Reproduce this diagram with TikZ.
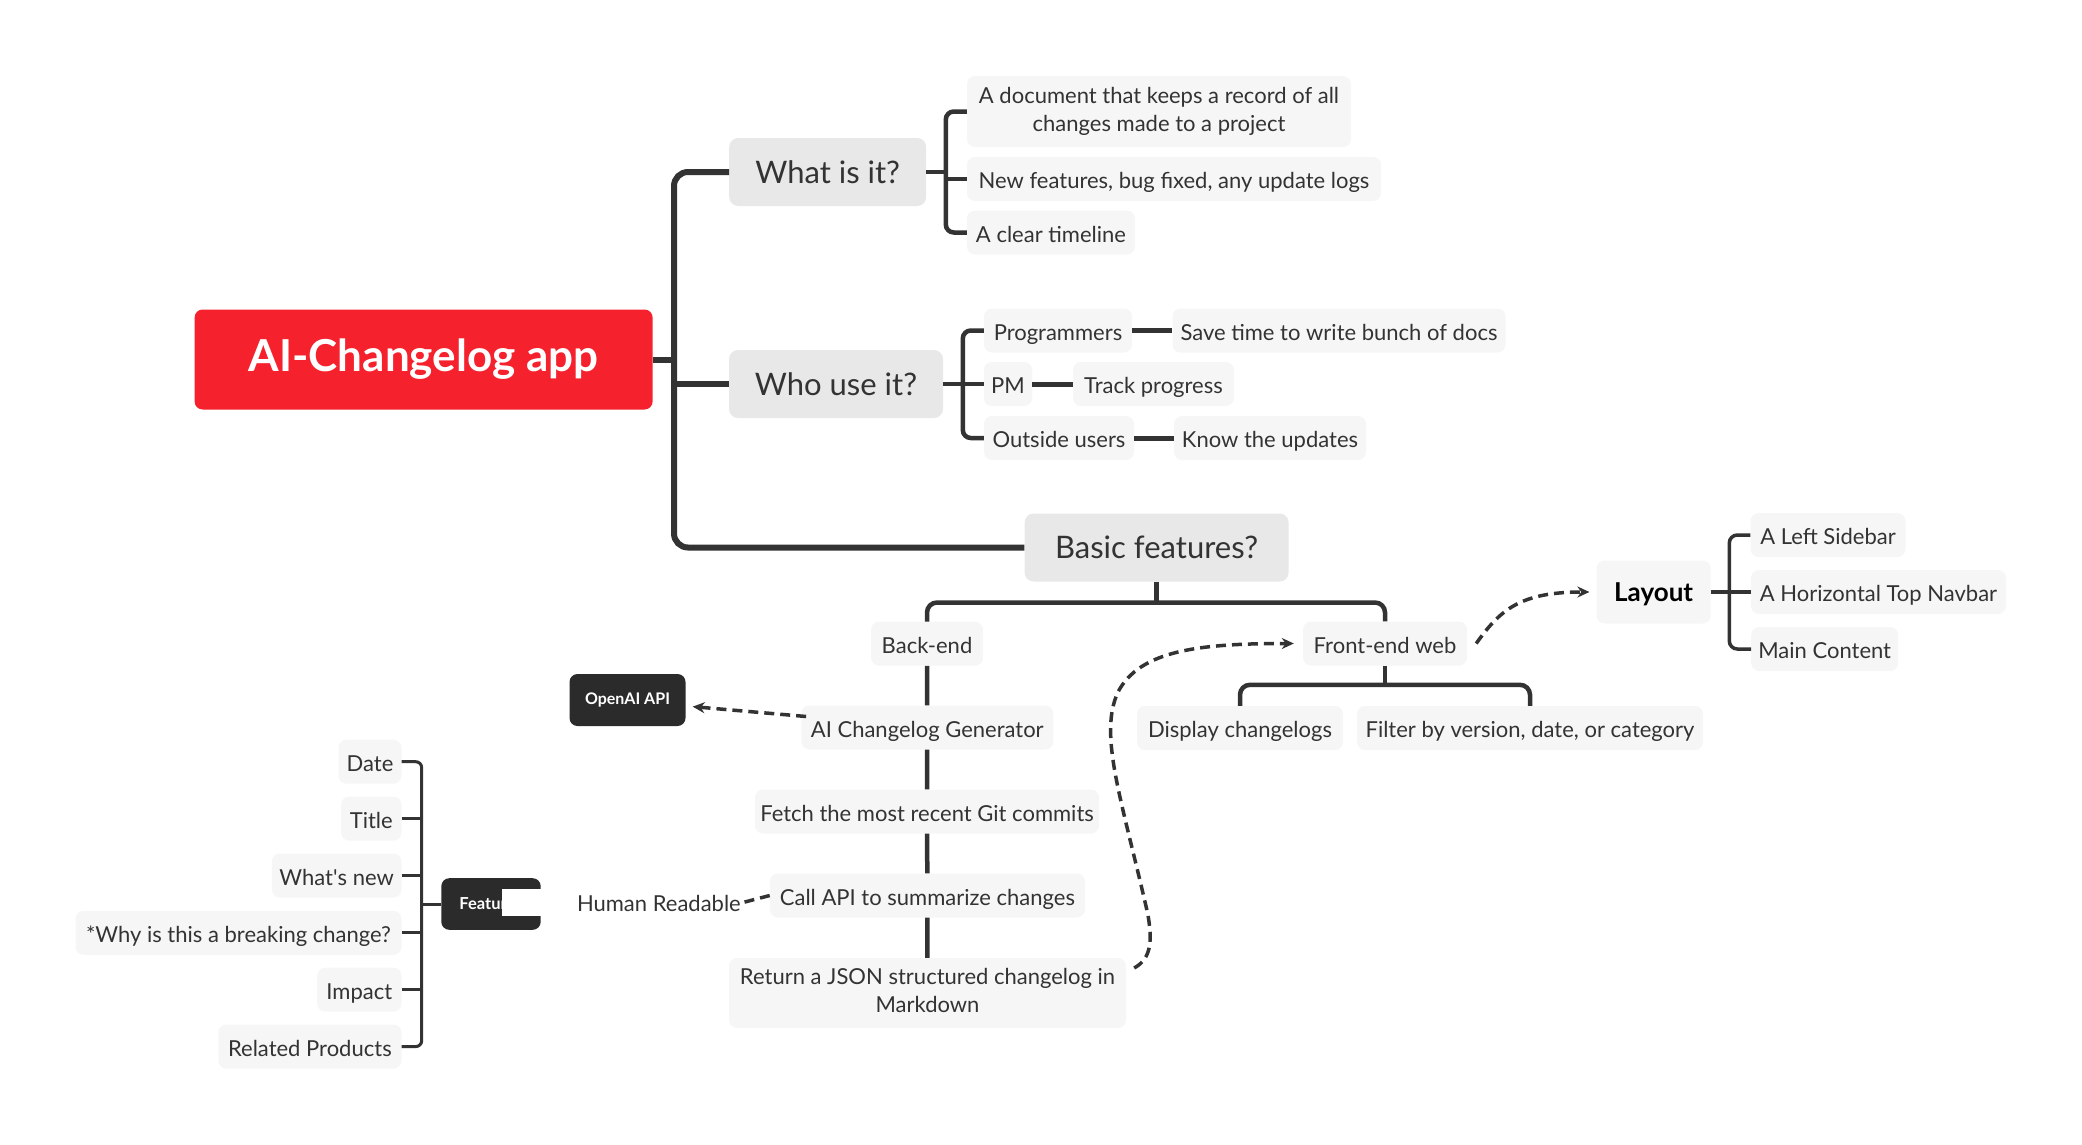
\documentclass[tikz,border=0pt]{standalone}
\usepackage{fontspec}
\setmainfont{Lato}
\usetikzlibrary{arrows.meta}
\definecolor{rootred}{HTML}{F5222D}
\definecolor{topicgray}{HTML}{E8E8E8}
\definecolor{leafgray}{HTML}{F6F6F6}
\definecolor{inkgray}{HTML}{333333}
\definecolor{boxdark}{HTML}{2B2B2B}

\begin{document}
\begin{tikzpicture}[x=1pt,y=-1pt,>={Stealth[length=12pt,width=11pt]},
  every node/.style={text=inkgray,inner sep=0pt},
  root/.style={fill=rootred,text=white,rounded corners=8pt,minimum height=100pt,
    font=\fontsize{44}{52}\selectfont\bfseries},
  topic/.style={fill=topicgray,rounded corners=9pt,minimum height=68pt,
    font=\fontsize{31}{37}\selectfont},
  leaf/.style={fill=leafgray,rounded corners=8pt,minimum height=44pt,align=center,
    font=\fontsize{22}{28}\selectfont,execute at begin node=\rule[-5pt]{0pt}{29pt}},
  dark/.style={fill=boxdark,text=white,rounded corners=8pt,
    font=\fontsize{16}{19}\selectfont\bfseries},
  wire/.style={draw=inkgray,line width=#1,rounded corners=10pt},
  wire/.default=4.5pt,
  link/.style={draw=inkgray,line width=3.5pt,dash pattern=on 10pt off 6pt}]
  \useasboundingbox (0,0) rectangle (2082,1144);
  \node[root,minimum width=458pt] (root) at (423.6,359.5) {AI-Changelog app};
  \node[topic,minimum width=197pt] (what) at (827.7,172) {What is it?};
  \node[topic,minimum width=214pt] (who) at (836,384) {Who use it?};
  \node[topic,minimum width=264pt] (basic) at (1156.6,547.5) {Basic features?};
  \node[leaf,minimum width=384pt,minimum height=71pt] (doc) at (1159,111.5)
      {A document that keeps a record of all\\changes made to a project};
  \node[leaf,minimum width=414pt] (newf) at (1174,179) {New features, bug fixed, any update logs};
  \node[leaf,minimum width=168pt] (timeline) at (1051,232.5) {A clear timeline};
  \node[leaf,minimum width=148pt] (prog) at (1058,330.5) {Programmers};
  \node[leaf,minimum width=333pt] (save) at (1339,330.5) {Save time to write bunch of docs};
  \node[leaf,minimum width=48.5pt] (pm) at (1008,384) {PM};
  \node[leaf,minimum width=161pt] (track) at (1153.5,384) {Track progress};
  \node[leaf,minimum width=150pt] (outside) at (1059,438) {Outside users};
  \node[leaf,minimum width=192pt] (know) at (1270,438) {Know the updates};
  \node[leaf,minimum width=112pt] (back) at (927,643.7) {Back-end};
  \node[leaf,minimum width=164pt] (front) at (1385,643.5) {Front-end web};
  \node[leaf,minimum width=252pt] (gen) at (927.3,727.5) {AI Changelog Generator};
  \node[leaf,minimum width=344pt] (fetch) at (927,811.5) {Fetch the most recent Git commits};
  \node[leaf,minimum width=315pt] (call) at (927.4,895.5) {Call API to summarize changes};
  \node[leaf,minimum width=397pt,minimum height=70pt] (ret) at (927.5,993)
      {Return a JSON structured changelog in\\Markdown};
  \node[dark,minimum width=116pt,minimum height=52pt] (api) at (627.5,700) {OpenAI API};
  \node[anchor=east,font=\fontsize{22}{26}\selectfont] (human) at (741,903) {Human Readable};
  \node[leaf,minimum width=206pt] (disp) at (1240,728) {Display changelogs};
  \node[leaf,minimum width=346pt] (filt) at (1530,728) {Filter by version, date, or category};
  \node[leaf,minimum width=114pt,minimum height=63pt,text=black,
    font=\fontsize{26}{31}\selectfont\bfseries] (layout) at (1653.6,592) {Layout};
  \node[leaf,minimum width=155pt] (lside) at (1828,535) {A Left Sidebar};
  \node[leaf,minimum width=255pt] (navbar) at (1878.5,592) {A Horizontal Top Navbar};
  \node[leaf,minimum width=147pt] (mainc) at (1824.7,649) {Main Content};
  \node[dark,minimum width=99.4pt,minimum height=51.6pt,
    font=\fontsize{16.5}{19}\selectfont\bfseries] (feat) at (491,904) {Features};
  \fill[white] (501.7,889.3) rectangle (541,916);
  \foreach \name/\txt/\w/\y in {date/Date/63/761.7,title/Title/60.4/818.6,
      whatsnew/What\textquotesingle s new/129.7/875.5,why/*Why is this a breaking change?/326/932.8,
      impact/Impact/84.3/989.7,related/Related Products/183.2/1046.6}
    \node[leaf,anchor=east,minimum width=\w pt] (\name) at (401.7,\y) {\txt};
  \draw[wire=6pt,rounded corners=14pt] (what.west) -- ++(-55,0) |- (basic.west);
  \draw[wire=6pt] (who.west) -- ++(-55,0);
  \draw[wire=6pt] (root.east) -- ++(21.4,0);
  \draw[wire] (what.east) -- ++(20,0);
  \draw[wire,rounded corners=8pt] (doc.west) -- ++(-21,0) |- (timeline.west);
  \draw[wire] (newf.west) -- ++(-21,0);
  \draw[wire] (who.east) -- ++(20,0);
  \draw[wire,rounded corners=8pt] (prog.west) -- ++(-21,0) |- (outside.west);
  \draw[wire] (pm.west) -- ++(-21,0);
  \draw[wire=5pt] (prog) -- (save);
  \draw[wire=5pt] (pm) -- (track);
  \draw[wire=5pt] (outside) -- (know);
  \draw[wire] (basic.south) -- ++(0,20.5);
  \draw[wire] (back.north) -- ++(0,-19) -| (front.north);
  \foreach \a/\b in {back/gen,gen/fetch,fetch/call,call/ret}
    \draw[wire] (\a) -- (\b);
  \draw[wire] (front.south) -- ++(0,19.5);
  \draw[wire] (disp.north) -- ++(0,-21) -| (filt.north);
  \draw[wire=3.5pt] (layout.east) -- (navbar.west);
  \draw[wire=3.5pt,rounded corners=8pt] (lside.west) -- ++(-21,0) |- (mainc.west);
  \draw[wire=3pt,rounded corners=6pt] (date.east) -- ++(20,0) |- (related.east);
  \foreach \name in {title,whatsnew,why,impact}
    \draw[wire=3pt] (\name.east) -- ++(20,0);
  \draw[wire=3pt] (feat.west) -- ++(-20,0);
  \draw[link,->,shorten >=7pt] ([xshift=5pt,yshift=11pt]gen.west) -- ([yshift=-6pt]api.east);
  \draw[link] (call.west) -- (human.east);
  \draw[link,->,shorten >=9pt] ([xshift=8pt,yshift=25pt]ret.east)
      .. controls (1152,958) and (1152,940) .. (1148,915)
      .. controls (1122,800) and (1098,735) .. (1118,692)
      .. controls (1140,650) and (1200,643.5) .. (front.west);
  \draw[link,->,shorten >=7pt] ([xshift=9pt]front.east)
      .. controls (1500,610) and (1520,592) .. (layout.west);
\end{tikzpicture}
\end{document}
